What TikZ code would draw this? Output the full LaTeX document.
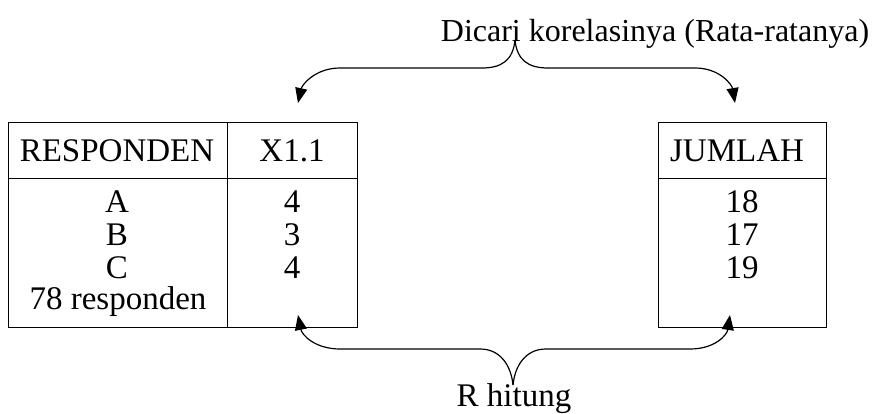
\documentclass[tikz,border=0pt]{standalone}
\usepackage{fontspec}
\setmainfont{Liberation Serif}
\usetikzlibrary{arrows.meta}
\begin{document}
\begin{tikzpicture}[x=1pt,y=-1pt,
  cell/.style={draw=black,line width=1.4pt,minimum width=#1,minimum height=0pt,inner sep=0pt,anchor=north west},
  txt/.style={font=\fontsize{33}{35}\selectfont,inner sep=0pt},
  arr/.style={line width=1.2pt,-{Triangle[length=15pt,width=12pt]}}]
\useasboundingbox (0,0) rectangle (872,414);
% left table
\node[cell=219pt,minimum height=56pt] (h1) at (8,122) {};
\node[cell=130pt,minimum height=56pt] (h2) at (227,122) {};
\node[cell=219pt,minimum height=149pt] (b1) at (8,178) {};
\node[cell=130pt,minimum height=149pt] (b2) at (227,178) {};
% right table
\node[cell=168pt,minimum height=56pt] (h3) at (658,122) {};
\node[cell=168pt,minimum height=149pt] (b3) at (658,178) {};
% texts
\node[txt] (tresp) at (117,151) {RESPONDEN};
\node[txt] (tx) at (292,151) {X1.1};
\node[txt] (tj) at (737,151) {JUMLAH};
\node[txt] (ta) at (117,202) {A};
\node[txt] (tb) at (117,235) {B};
\node[txt] (tc) at (117,268) {C};
\node[txt] (tr) at (118,302) {78 responden};
\node[txt] (v1) at (292,202) {4};
\node[txt] (v2) at (292,235) {3};
\node[txt] (v3) at (292,268) {4};
\node[txt] (w1) at (742,202) {18};
\node[txt] (w2) at (742,235) {17};
\node[txt] (w3) at (742,268) {19};
\node[txt,font=\fontsize{32}{34}\selectfont] (top) at (655,34) {Dicari korelasinya (Rata-ratanya)};
\node[txt] (bot) at (514,399) {R hitung};
% braces
\coordinate (ta1) at (515,40);
\coordinate (tl) at (298,103);
\coordinate (tr2) at (735,103);
\coordinate (ba1) at (513,385);
\coordinate (bl) at (298,315);
\coordinate (br) at (730,315);
\draw[arr] (ta1) .. controls (513,60) and (502,68) .. (482,68) -- (340,68) .. controls (315,68) and (302,85) .. (tl);
\draw[arr] (ta1) .. controls (517,60) and (528,68) .. (548,68) -- (695,68) .. controls (720,68) and (732,85) .. (tr2);
\draw[arr] (ba1) .. controls (511,365) and (500,349) .. (480,349) -- (340,349) .. controls (315,349) and (302,335) .. (bl);
\draw[arr] (ba1) .. controls (515,365) and (526,349) .. (546,349) -- (690,349) .. controls (715,349) and (727,335) .. (br);
\end{tikzpicture}
\end{document}
